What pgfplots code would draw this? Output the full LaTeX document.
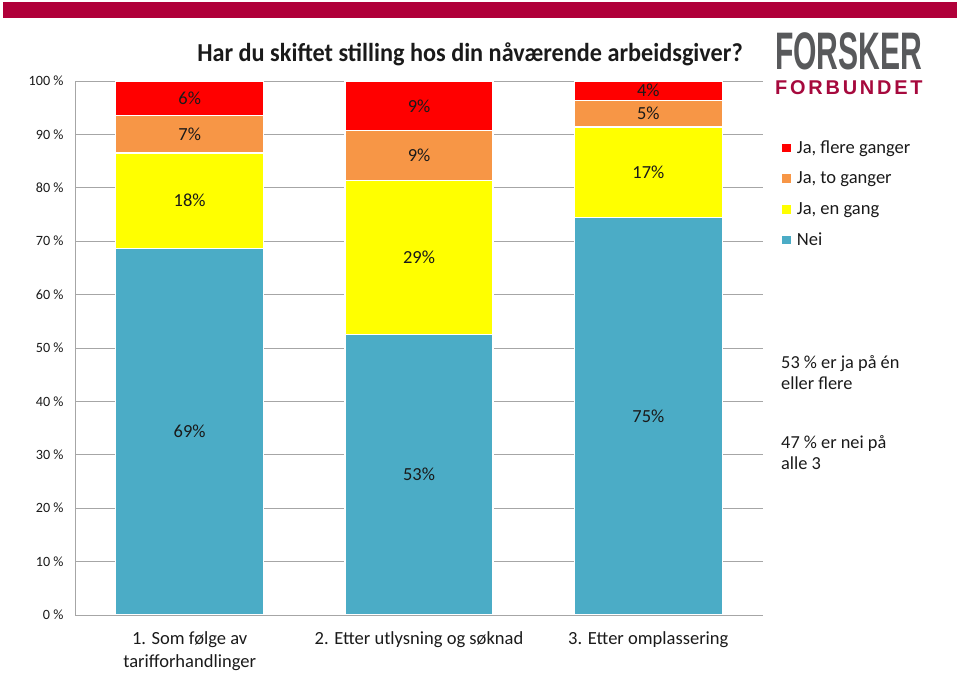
\documentclass[border=0pt]{standalone}
\usepackage{fontspec}
\setmainfont{Carlito}
\newfontfamily\logofont{Liberation Sans}
\newfontfamily\logofontsp[LetterSpace=14]{Liberation Sans}
\usepackage{pgfplots}
\usepackage{pgfplotstable}
\pgfplotsset{compat=1.18}
\definecolor{cflere}{HTML}{FF0000}
\definecolor{cto}{HTML}{F79646}
\definecolor{cen}{HTML}{FFFF00}
\definecolor{cnei}{HTML}{4BACC6}
\definecolor{bandc}{HTML}{B0003A}
\definecolor{logogrey}{HTML}{58595B}
\definecolor{logored}{HTML}{A6093D}
\definecolor{gridc}{HTML}{A6A6A6}
\definecolor{txt}{HTML}{1A1A1A}

\pgfplotstableread{
x nei en to flere
0 68.7 17.8 7.1 6.4
1 52.6 28.7 9.4 9.3
2 74.5 16.9 5.0 3.6
}\datatable

\begin{document}
\begin{tikzpicture}[x=1bp,y=1bp]
\path[use as bounding box] (0,0) rectangle (960,673);
\fill[bandc] (3,655) rectangle (957,671);
\node[font=\fontsize{26}{30}\selectfont\bfseries, anchor=base, inner sep=0, xscale=0.936, text=txt] at (470,611) {Har du skiftet stilling hos din nåværende arbeidsgiver?};
\node[font=\logofont\fontsize{53}{53}\selectfont\bfseries, anchor=base west, inner sep=0, xscale=0.57, text=logogrey] at (775,603) {FORSKER};
\node[font=\logofontsp\fontsize{20}{20}\selectfont\bfseries, anchor=base west, inner sep=0, text=logored] at (775,578) {FORBUNDET};
\node[font=\fontsize{18.4}{22}\selectfont, anchor=base west, align=left, inner sep=0, text=txt] at (781,283) {53 \% er ja på én\\eller flere};
\node[font=\fontsize{18.4}{22}\selectfont, anchor=base west, align=left, inner sep=0, text=txt] at (781,203) {47 \% er nei på\\alle 3};

\begin{axis}[
  at={(75bp,58bp)}, anchor=south west, scale only axis,
  width=688bp, height=534bp,
  ybar stacked, bar width=148bp,
  xmin=-0.5, xmax=2.5, ymin=0, ymax=100,
  xtick={0,1,2},
  xticklabels={{1. Som følge av\\tarifforhandlinger},{2. Etter utlysning og søknad},{3. Etter omplassering}},
  xticklabel style={align=center, font=\fontsize{18.6}{23}\selectfont, text=txt, yshift=-13bp},
  ytick={0,10,...,100},
  yticklabels={0 \%,10 \%,20 \%,30 \%,40 \%,50 \%,60 \%,70 \%,80 \%,90 \%,100 \%},
  yticklabel style={font=\fontsize{14.2}{16}\selectfont, text=txt, xshift=-8bp},
  major tick length=0pt,
  axis x line*=bottom, axis y line*=left,
  axis line style={gridc, -, line width=0.8bp},
  ymajorgrids, grid style={gridc, line width=0.8bp},
  reverse legend,
  legend cell align=left,
  legend style={at={(1.021,0.894)}, anchor=north west, draw=none, fill=none,
    font=\fontsize{18.6}{22}\selectfont, row sep=15bp,
    /tikz/every odd column/.append style={column sep=4bp},
    nodes={inner sep=1bp, text=txt}},
  legend image code/.code={\fill[#1] (0bp,-5bp) rectangle (10bp,5bp);},
]
\addplot[fill=cnei, draw=white, line width=1.2bp] table[x=x, y=nei] {\datatable};
\addlegendentry{Nei}
\addplot[fill=cen, draw=white, line width=1.2bp] table[x=x, y=en] {\datatable};
\addlegendentry{Ja, en gang}
\addplot[fill=cto, draw=white, line width=1.2bp] table[x=x, y=to] {\datatable};
\addlegendentry{Ja, to ganger}
\addplot[fill=cflere, draw=white, line width=1.2bp] table[x=x, y=flere] {\datatable};
\addlegendentry{Ja, flere ganger}
\end{axis}

\begin{axis}[
  at={(75bp,58bp)}, anchor=south west, scale only axis,
  width=688bp, height=534bp,
  xmin=-0.5, xmax=2.5, ymin=0, ymax=100, hide axis,
]
\addplot[draw=none, mark=none, nodes near coords, point meta=explicit symbolic,
  nodes near coords align=center,
  every node near coord/.append style={font=\fontsize{18.5}{20}\selectfont, text=txt, anchor=center}]
  coordinates {
  (0,34.35) [69\%] (0,77.6) [18\%] (0,90.05) [7\%] (0,96.8) [6\%]
  (1,26.3) [53\%] (1,66.95) [29\%] (1,86.0) [9\%] (1,95.35) [9\%]
  (2,37.25) [75\%] (2,82.95) [17\%] (2,93.9) [5\%] (2,98.2) [4\%]
  };
\end{axis}
\end{tikzpicture}
\end{document}
